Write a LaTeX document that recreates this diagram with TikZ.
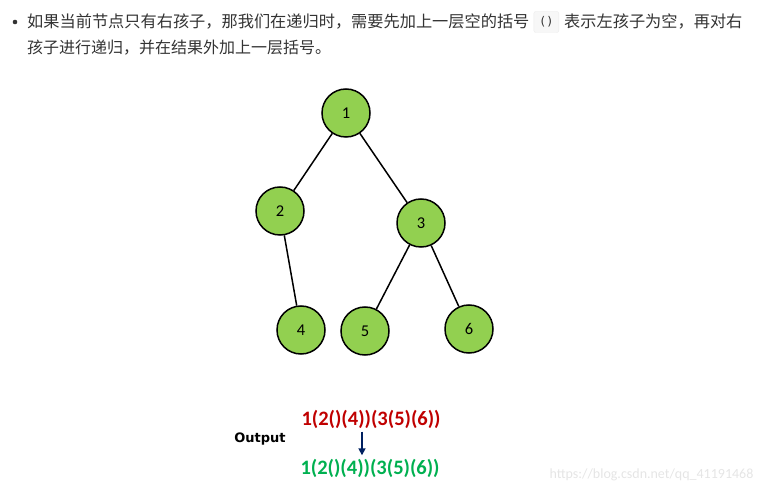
\documentclass[tikz,border=0pt]{standalone}
\usepackage{fontspec}
\setmainfont{Carlito}
\newfontfamily\cjk{Noto Sans CJK SC}
\newfontfamily\labfont{DejaVu Sans}
\usetikzlibrary{positioning,arrows.meta}
\definecolor{leaf}{RGB}{146,208,80}
\definecolor{outred}{RGB}{192,0,0}
\definecolor{outgreen}{RGB}{0,176,80}
\definecolor{navy}{RGB}{0,32,96}
\definecolor{txt}{RGB}{51,51,51}

\begin{document}
\begin{tikzpicture}[x=1pt,y=-1pt,
    vert/.style={circle,draw,line width=1.5pt,fill=leaf,minimum size=48pt,inner sep=0pt,font=\fontsize{16.5}{16}\selectfont},
    para/.style={inner sep=0pt,anchor=west,text=txt,font=\cjk\fontsize{16.2}{16}\selectfont}]
  \useasboundingbox (0,0) rectangle (766,494);
  % the text above the tree
  \fill[txt] (15,22) circle (2.3);
  \node[para] (l1) at (27,22) {如果当前节点只有右孩子，那我们在递归时，需要先加上一层空的括号};
  \node[draw=black!8,fill=black!3,rounded corners=2pt,inner sep=0pt,minimum width=25pt,minimum height=21pt,
        text=txt,font=\labfont\fontsize{12}{12}\selectfont,right=4pt of l1] (code) {(\,)};
  \node[para,right=5pt of code] (l1b) {表示左孩子为空，再对右};
  \node[para,font=\cjk\fontsize{16}{16}\selectfont] (l2) at (27,48) {孩子进行递归，并在结果外加上一层括号。};
  % the tree
  \node[vert] (n1) at (346,113) {1};
  \node[vert] (n2) at (280,211) {2};
  \node[vert] (n3) at (421,223) {3};
  \node[vert] (n4) at (301,330) {4};
  \node[vert] (n5) at (365,331) {5};
  \node[vert] (n6) at (469,329) {6};
  \draw[line width=1.5pt] (n1) -- (n2);
  \draw[line width=1.5pt] (n1) -- (n3);
  \draw[line width=1.5pt] (n2) -- (n4);
  \draw[line width=1.5pt] (n3) -- (n5);
  \draw[line width=1.5pt] (n3) -- (n6);
  % the output
  \node[font=\labfont\bfseries\fontsize{13}{13}\selectfont] (lab) at (260,439) {Output};
  \node[text=outred,font=\bfseries\fontsize{20.5}{20}\selectfont] (before) at (371,419) {1(2()(4))(3(5)(6))};
  \node[text=outgreen,font=\bfseries\fontsize{20.5}{20}\selectfont] (after) at (370,468) {1(2()(4))(3(5)(6))};
  \draw[navy,line width=1.6pt,-{Triangle[length=7pt,width=7pt]}] (before.south -| 362,0) -- (after.north -| 362,0);
  \node[text=black!10,font=\fontsize{14}{14}\selectfont,anchor=east] (mark) at (757,475) {https://blog.csdn.net/qq\_41191468};
\end{tikzpicture}
\end{document}
